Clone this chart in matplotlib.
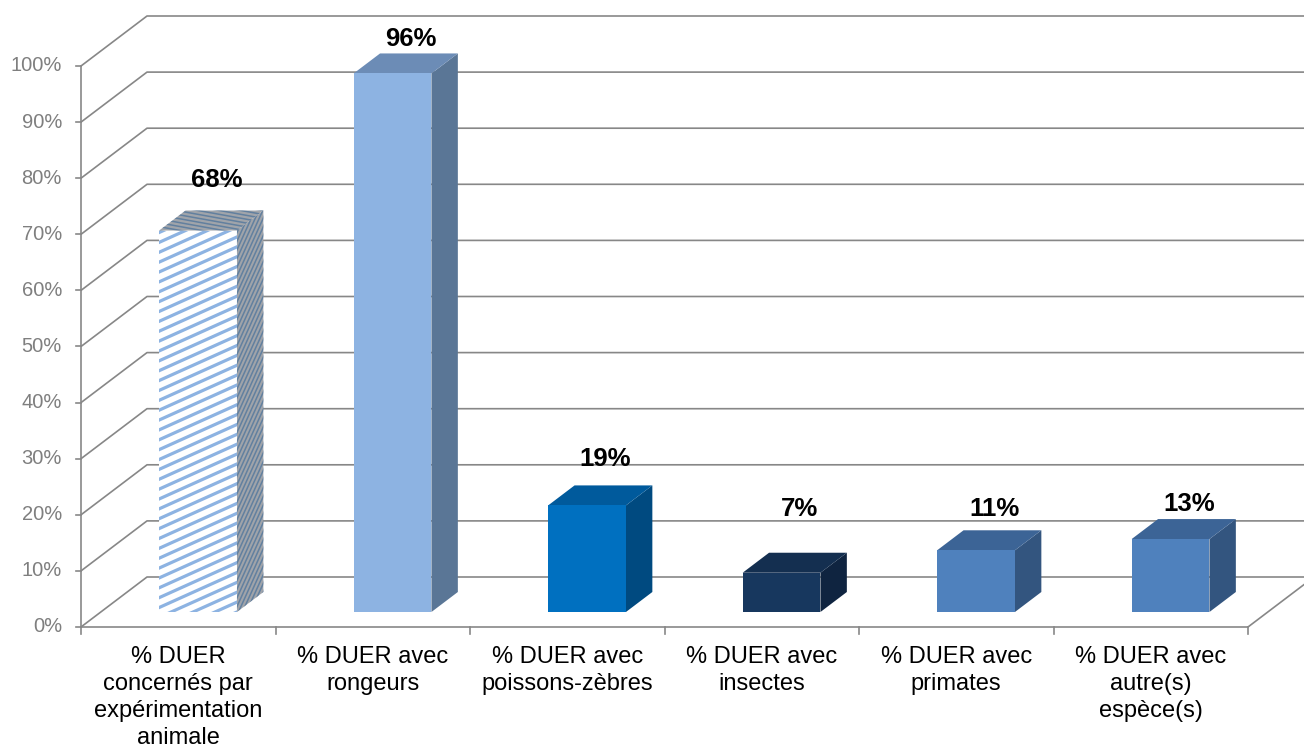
import numpy as np
import matplotlib
matplotlib.use('Agg')
import matplotlib.pyplot as plt
from matplotlib.patches import Polygon
from matplotlib.collections import LineCollection

plt.rcParams['font.family'] = ['Liberation Sans', 'DejaVu Sans']

# Data
categories = [
    "% DUER\nconcernés par\nexpérimentation\nanimale",
    "% DUER avec\nrongeurs",
    "% DUER avec\npoissons-zèbres",
    "% DUER avec\ninsectes",
    "% DUER avec\nprimates",
    "% DUER avec\nautre(s)\nespèce(s)",
]
values = [68, 96, 19, 7, 11, 13]
y_ticks = list(range(0, 101, 10))

# Colours per bar (front, top, side); the first bar is striped
front_colors = ['#FFFFFF', '#8DB3E2', '#0070C0', '#17375E', '#4F81BD', '#4F81BD']
top_colors = ['#A0A4AA', '#6C8CB6', '#005A9C', '#142F50', '#3C6496', '#3C6496']
side_colors = ['#A0A4AA', '#5A7696', '#004A80', '#0F2440', '#33557F', '#33557F']
# Excel places its 3D data labels a bit unevenly above the bars
label_lift = [9.4, 6.6, 8.7, 11.8, 7.8, 6.6]

grid_color = '#878787'

# Layout: pixel scale of the front plane and the oblique depth offset
W, H = 1304, 747
SX = 194.5          # px per category
SY = 5.61           # px per percent point
X0_PX = 81          # px from left to the value axis
Y0_PX = 120         # px from bottom to 0 %
DX = 66 / SX        # full depth offset, data units
DY = 50 / SY
Z1, Z2 = 0.3, 0.7   # bar depth range
BAR_L, BAR_R = 0.3, 0.7


def proj(x, v, z):
    return (x + z * DX, v + z * DY)


fig = plt.figure(figsize=(W / 100, H / 100), dpi=100)
ax = fig.add_axes([0, 0, 1, 1])
ax.set_xlim(-X0_PX / SX, (W - X0_PX) / SX)
ax.set_ylim(-Y0_PX / SY, (H - Y0_PX) / SY)
ax.axis('off')

n = len(values)

# Walls: side wall diagonals + back wall gridlines
for t in y_ticks:
    ax.plot([0, DX, n + DX], [t, t + DY, t + DY], color=grid_color, lw=1.2,
            solid_capstyle='butt', zorder=1)
# floor front and right edges
ax.plot([0, n, n + DX], [0, 0, DY], color=grid_color, lw=1.2, zorder=1)

# value axis
ax.plot([0, 0], [0, 100], color=grid_color, lw=1.2, zorder=2)
for t in y_ticks:
    ax.plot([-5 / SX, 0], [t, t], color=grid_color, lw=1.2, zorder=2)
    ax.text(-19 / SX, t, f'{t}%', ha='right', va='center', fontsize=14.5,
            color='#7F7F7F')

# category ticks and labels
for i in range(n + 1):
    ax.plot([i, i], [0, -7 / SY], color=grid_color, lw=1.2, zorder=2)
for i, cat in enumerate(categories):
    ax.text(i + 0.5, -19 / SY, cat, ha='center', va='top', fontsize=17,
            linespacing=1.29, color='black')


def add_stripes(patch, pts, slope, gap, color, lw):
    P = np.array(pts) * [SX, SY]
    d = np.array([1.0, slope])
    d /= np.linalg.norm(d)
    nrm = np.array([-d[1], d[0]])
    pn = P @ nrm
    pd = P @ d
    segs = []
    for k in np.arange(pn.min() - gap, pn.max() + gap, gap):
        a = k * nrm + (pd.min() - 10) * d
        b = k * nrm + (pd.max() + 10) * d
        segs.append([a / [SX, SY], b / [SX, SY]])
    lc = LineCollection(segs, colors=color, linewidths=lw, zorder=4)
    ax.add_collection(lc)
    lc.set_clip_path(patch)


# Bars
for i, v in enumerate(values):
    x0, x1 = i + BAR_L, i + BAR_R
    front = [proj(x0, 0, Z1), proj(x1, 0, Z1), proj(x1, v, Z1), proj(x0, v, Z1)]
    side = [proj(x1, 0, Z1), proj(x1, 0, Z2), proj(x1, v, Z2), proj(x1, v, Z1)]
    top = [proj(x0, v, Z1), proj(x1, v, Z1), proj(x1, v, Z2), proj(x0, v, Z2)]
    ps = ax.add_patch(Polygon(side, closed=True, facecolor=side_colors[i],
                              edgecolor='none', zorder=3))
    pt = ax.add_patch(Polygon(top, closed=True, facecolor=top_colors[i],
                              edgecolor='none', zorder=3))
    pf = ax.add_patch(Polygon(front, closed=True, facecolor=front_colors[i],
                              edgecolor='none', zorder=3))
    if i == 0:
        add_stripes(pf, front, 0.45, 9.0, '#8DB3E2', 2.3)
        add_stripes(ps, side, 2.2, 3.6, '#62809F', 1.1)
        add_stripes(pt, top, -0.18, 3.8, '#62809F', 1.1)

    # data label
    lx = i + 0.5 + (Z1 + Z2) / 2 * DX + 5 / SX
    ly = v + Z1 * DY + label_lift[i] - 9.2 / SY
    ax.text(lx, ly, f'{v}%', ha='center', va='baseline', fontsize=18.5,
            fontweight='bold', color='black', zorder=5)

fig.savefig('out.png', dpi=100)
